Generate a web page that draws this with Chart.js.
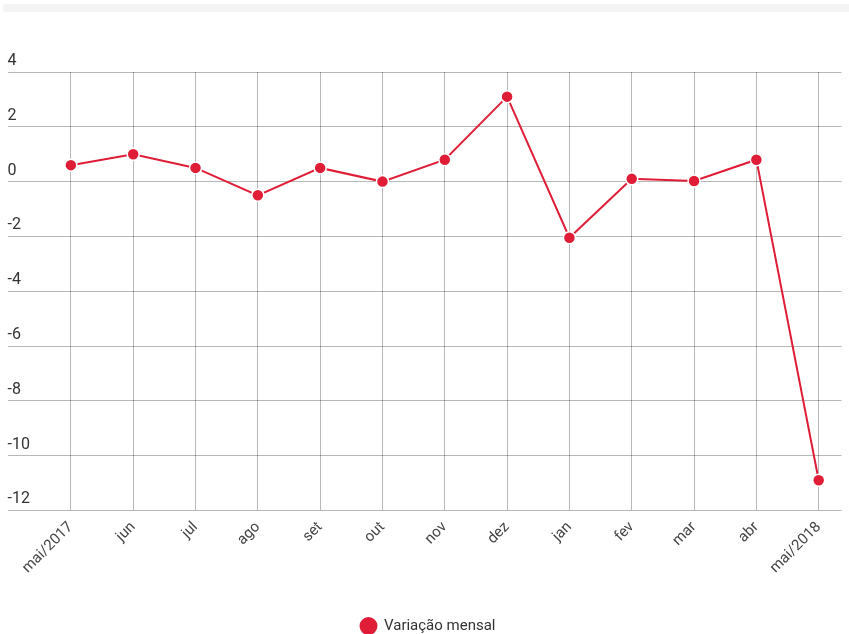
<!DOCTYPE html>
<html>
<head>
<meta charset="utf-8">
<script src="https://cdn.jsdelivr.net/npm/chart.js@4/dist/chart.umd.min.js"></script>
<style>
  html, body { margin: 0; padding: 0; background: #ffffff; }
  #wrap { position: relative; width: 849px; height: 634px; }
  #strip { position: absolute; left: 3px; top: 4px; width: 846px; height: 8px; background: #f4f4f4; }
  canvas { position: absolute; left: 0; top: 0; }
</style>
</head>
<body>
<div id="wrap">
  <div id="strip"></div>
  <canvas id="c" width="849" height="634"></canvas>
</div>
<script>
const categories = ['mai/2017', 'jun', 'jul', 'ago', 'set', 'out', 'nov', 'dez', 'jan', 'fev', 'mar', 'abr', 'mai/2018'];
const variacaoMensal = [0.6, 1.0, 0.5, -0.5, 0.5, 0.0, 0.8, 3.1, -2.05, 0.1, 0.02, 0.8, -10.9];
const yTicks = [4, 2, 0, -2, -4, -6, -8, -10, -12];
const seriesName = 'Variação mensal';

const red = '#e01d37';
const points = variacaoMensal.map((v, i) => ({ x: i, y: v }));

new Chart(document.getElementById('c'), {
  type: 'line',
  data: {
    datasets: [{
      label: seriesName,
      data: points,
      borderColor: red,
      backgroundColor: red,
      borderWidth: 2,
      pointRadius: 6,
      pointHoverRadius: 6,
      pointBackgroundColor: red,
      pointBorderColor: '#ffffff',
      pointBorderWidth: 1.5,
      tension: 0
    }]
  },
  options: {
    responsive: false,
    animation: false,
    layout: { padding: { left: 7, right: 0, top: 72, bottom: -10 } },
    plugins: {
      legend: {
        position: 'bottom',
        labels: {
          font: { family: 'Roboto', size: 15 },
          color: '#333333',
          boxWidth: 16,
          boxHeight: 16,
          useBorderRadius: true,
          borderRadius: 8,
          padding: 1
        }
      },
      tooltip: { enabled: false }
    },
    scales: {
      x: {
        type: 'linear',
        min: -1.017,
        max: 12.366,
        afterBuildTicks: (axis) => { axis.ticks = categories.map((_, i) => ({ value: i })); },
        grid: { color: 'rgba(0,0,0,0.28)', lineWidth: 1, drawTicks: false },
        border: { display: false },
        title: { display: true, text: '', font: { size: 10 }, padding: 10 },
        ticks: {
          autoSkip: false,
          maxRotation: 45,
          minRotation: 45,
          padding: 8,
          color: '#444444',
          font: { family: 'Roboto', size: 15 },
          callback: (v) => categories[v]
        }
      },
      y: {
        min: -12,
        max: 4,
        afterBuildTicks: (axis) => { axis.ticks = yTicks.map(v => ({ value: v })); },
        grid: { color: 'rgba(0,0,0,0.28)', lineWidth: 1, drawTicks: false },
        border: { display: false },
        ticks: {
          mirror: true,
          padding: 0,
          labelOffset: -11,
          color: '#333333',
          font: { family: 'Roboto', size: 16 }
        }
      }
    }
  }
});
</script>
</body>
</html>
